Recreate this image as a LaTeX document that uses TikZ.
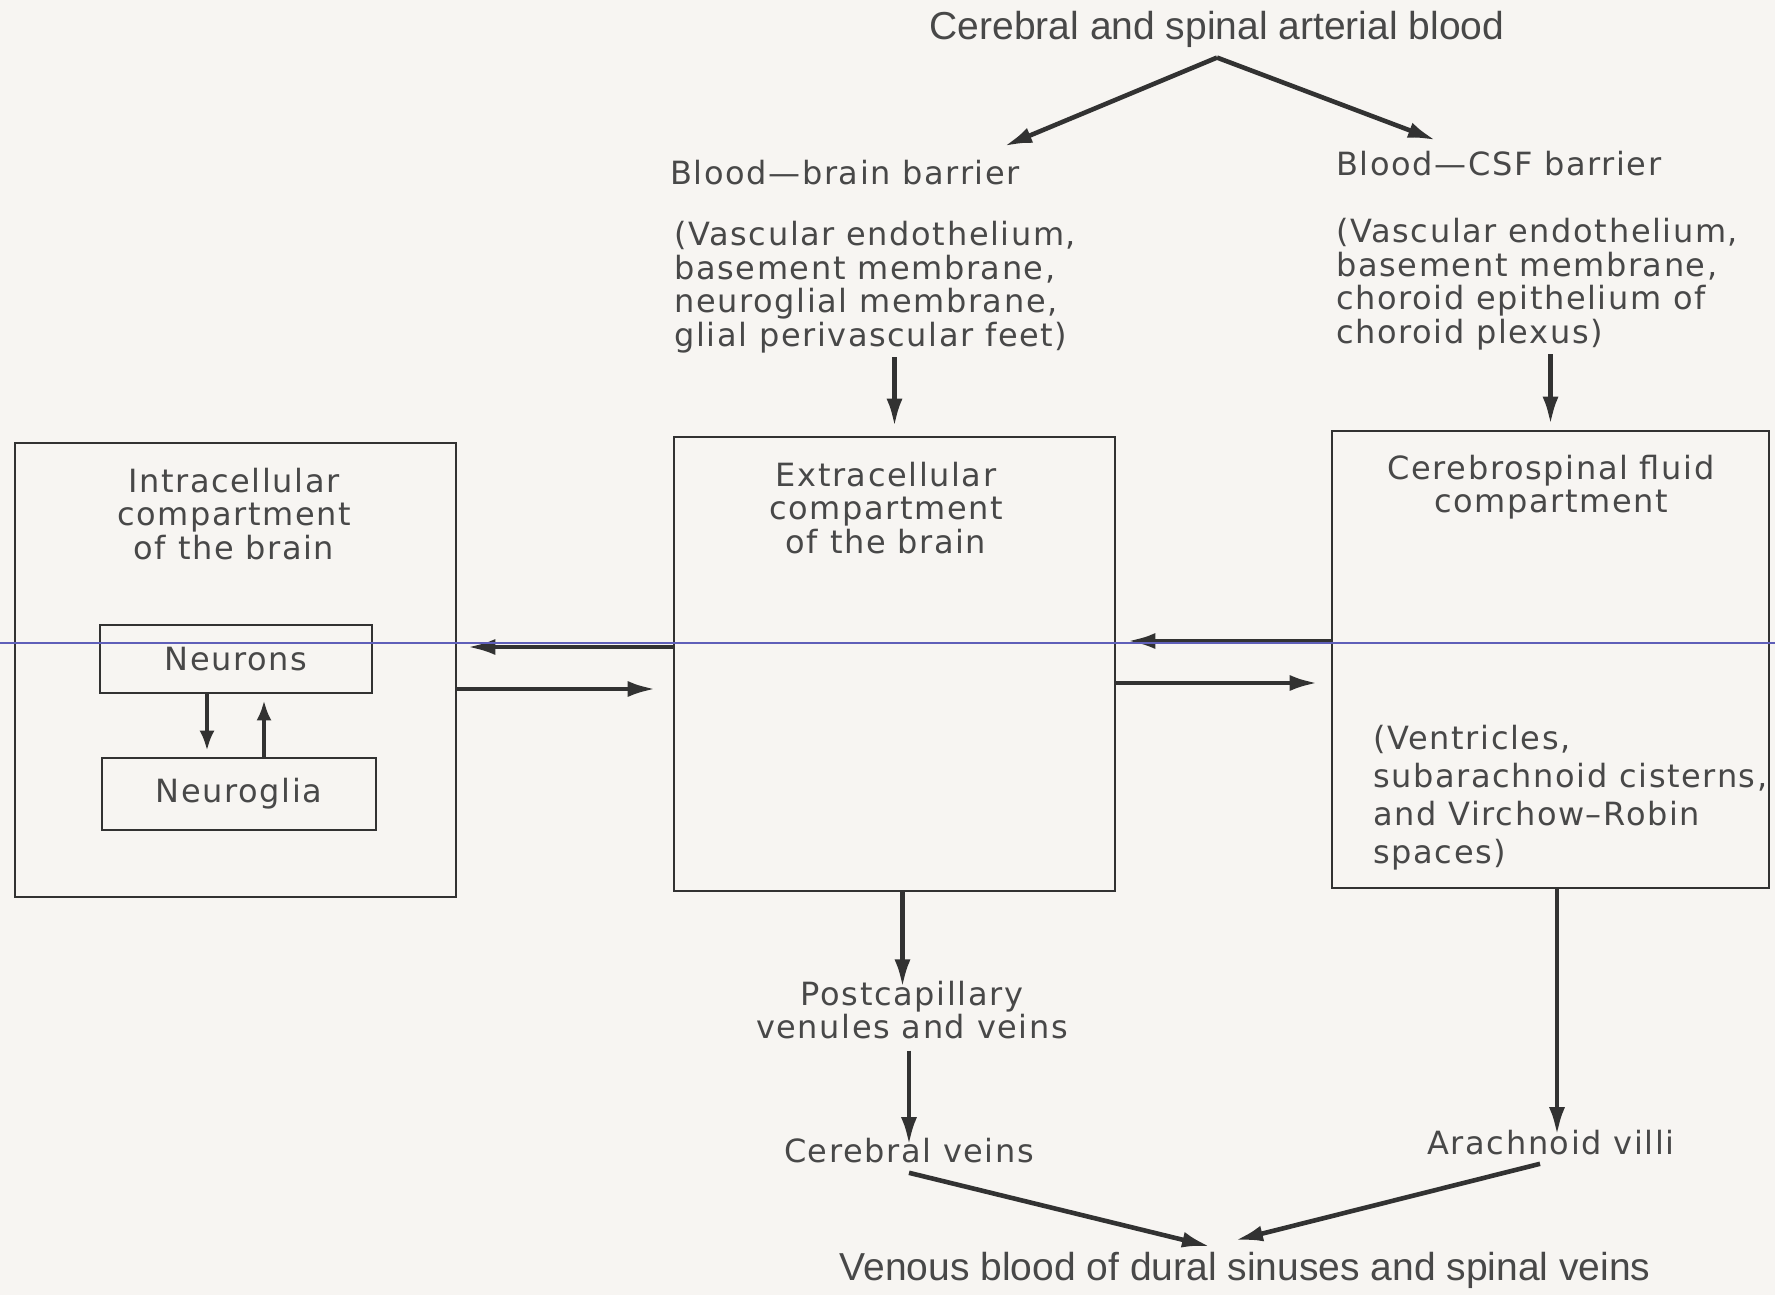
\documentclass[tikz,border=0pt]{standalone}
\usepackage{fontspec}
\usetikzlibrary{arrows.meta}
\newfontfamily\boxfont[LetterSpace=5]{DejaVu Sans}
\newfontfamily\headfont{Liberation Sans}
\definecolor{paper}{RGB}{247,245,242}
\definecolor{ink}{RGB}{72,72,72}
\definecolor{linegray}{RGB}{50,50,50}
\definecolor{scanblue}{RGB}{95,95,185}

\begin{document}
\begin{tikzpicture}[x=0.5pt, y=-0.5pt,
  box/.style={draw=linegray, line width=1.3pt, minimum width=220.5pt, minimum height=227pt, inner sep=0},
  small box/.style={draw=linegray, line width=1.3pt, minimum width=136pt, minimum height=34pt, inner sep=0},
  txt/.style={inner sep=0, text=ink, font=\boxfont\fontsize{16}{16.75}\selectfont, align=center},
  head/.style={inner sep=0, text=ink, font=\headfont\fontsize{19.5}{22}\selectfont},
  flow/.style={draw=linegray, line width=2.3pt, -{Latex[length=14pt,width=8pt]}},
  short flow/.style={flow, -{Latex[length=10pt,width=7.5pt]}}]
\fill[paper] (0,0) rectangle (1775,1295);
\useasboundingbox (0,0) rectangle (1775,1295);

\node[head] (art) at (1217,29) {Cerebral and spinal arterial blood};
\node[txt, anchor=west] (bbb) at (670,173) {Blood—brain barrier};
\node[txt, anchor=west] (bcsf) at (1336,164) {Blood—CSF barrier};
\node[txt, anchor=west, align=left] (bbbtext) at (674,287) {(Vascular endothelium,\\basement membrane,\\neuroglial membrane,\\glial perivascular feet)};
\node[txt, anchor=west, align=left] (csftext) at (1336,284) {(Vascular endothelium,\\basement membrane,\\choroid epithelium of\\choroid plexus)};

\node[box] (intra) at (235.5,670) {};
\node[box] (extra) at (894.5,664) {};
\node[box, minimum width=218.5pt, minimum height=228.5pt] (csf) at (1550.5,659.5) {};
\node[txt] (intratext) at (234,514) {Intracellular\\compartment\\of the brain};
\node[txt] (extratext) at (886,508) {Extracellular\\compartment\\of the brain};
\node[txt] (csftitle) at (1551,487) {Cerebrospinal fluid\\compartment};
\node[txt, anchor=west, align=left, font=\boxfont\fontsize{16}{19}\selectfont] (ventr) at (1373,798) {(Ventricles,\\subarachnoid cisterns,\\and Virchow–Robin\\spaces)};
\node[small box, txt] (neur) at (236,659) {Neurons};
\node[small box, txt, minimum width=137pt, minimum height=36pt] (glia) at (239,794) {Neuroglia};

\node[txt] (postcap) at (912,1010) {Postcapillary\\venules and veins};
\node[txt] (cv) at (909,1151) {Cerebral veins};
\node[txt] (arach) at (1551,1143) {Arachnoid villi};
\node[head] (venous) at (1245,1270) {Venous blood of dural sinuses and spinal veins};

% arterial side
\draw[flow] ([yshift=-5pt]art.south) -- ([xshift=-8pt,yshift=7pt]bbb.north east);
\draw[flow] ([yshift=-5pt]art.south) -- ([xshift=-31.5pt,yshift=5.5pt]bcsf.north);
\draw[flow, shorten <=2pt, shorten >=4.5pt] (bbbtext.south -| extra.north) -- (extra.north);
\draw[flow, shorten <=2pt, shorten >=2.5pt] (csftext.south -| csf.north) -- (csf.north);

% exchange between compartments
\draw[flow, shorten >=5pt] ([yshift=8.5pt]extra.west) -- ([yshift=8.5pt]extra.west -| intra.east);
\draw[flow, shorten >=8.5pt] ([yshift=-9.5pt]intra.east) -- ([yshift=-9.5pt]intra.east -| extra.west);
\draw[flow, shorten >=5.5pt] ([yshift=9.25pt]csf.west) -- ([yshift=9.25pt]csf.west -| extra.east);
\draw[flow, shorten >=6.5pt] ([yshift=-9.5pt]extra.east) -- ([yshift=-9.5pt]extra.east -| csf.west);
\draw[short flow, shorten >=3pt] ([xshift=-14.5pt]neur.south) -- ([xshift=-14.5pt]neur.south |- glia.north);
\draw[short flow, shorten >=3pt] ([xshift=12.5pt]glia.north) -- ([xshift=12.5pt]glia.north |- neur.south);

% venous side
\draw[flow, shorten >=-3.5pt] ([xshift=4pt]extra.south) -- ([xshift=4pt]extra.south |- postcap.north);
\draw[flow, shorten <=5.5pt, shorten >=-3.5pt] (postcap.south -| cv.north) -- (cv.north);
\draw[flow, shorten >=-2.5pt] ([xshift=3.25pt]csf.south) -- ([xshift=3.25pt]csf.south |- arach.north);
\draw[flow] ([yshift=-4.5pt]cv.south) -- ([xshift=-17.5pt,yshift=2.5pt]venous.north);
\draw[flow] ([xshift=-5.5pt,yshift=-4pt]arach.south) -- ([xshift=-5pt,yshift=5.5pt]venous.north);

\draw[scanblue, line width=0.6pt] (0,643) -- (1775,643);
\end{tikzpicture}
\end{document}
